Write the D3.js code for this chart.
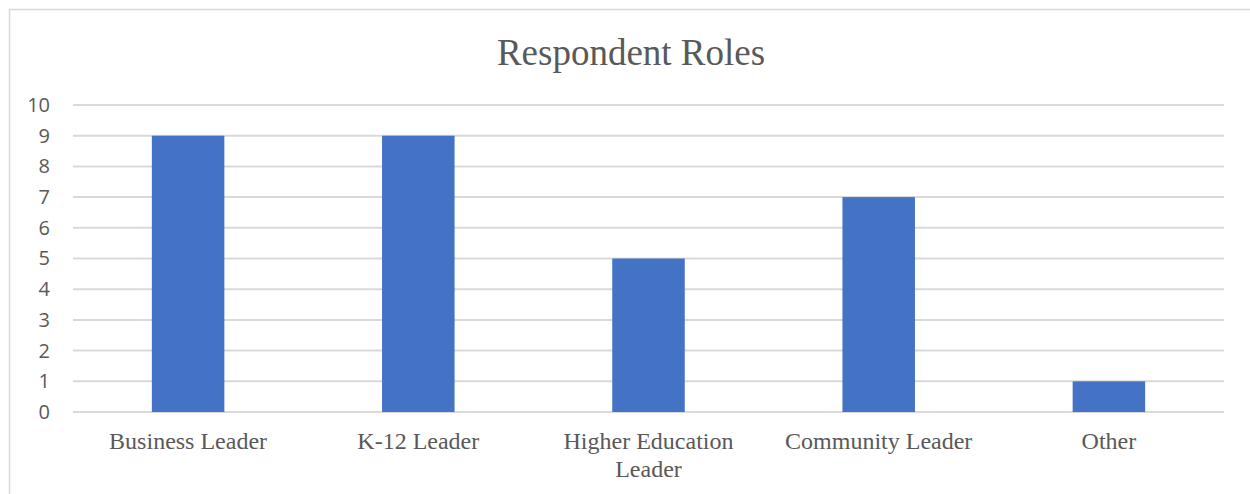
<!DOCTYPE html>
<html>
<head>
<meta charset="utf-8">
<script src="https://cdn.jsdelivr.net/npm/d3@7"></script>
<style>
  body { margin: 0; background: #fff; }
  svg { display: block; }
</style>
</head>
<body>
<svg width="1250" height="494"></svg>
<script>
// Chart data
const categories = ["Business Leader", "K-12 Leader", "Higher Education Leader", "Community Leader", "Other"];
const counts = [9, 9, 5, 7, 1];
const yTicks = [0, 1, 2, 3, 4, 5, 6, 7, 8, 9, 10];
const chartTitle = "Respondent Roles";

const svg = d3.select("svg");

// Outer chart border
svg.append("rect")
    .attr("x", 9.5).attr("y", 9.5)
    .attr("width", 1260).attr("height", 500)
    .attr("fill", "none")
    .attr("stroke", "#d9d9d9")
    .attr("stroke-width", 1.5);

const plotLeft = 73, plotRight = 1224, plotTop = 105, plotBottom = 412;

const x = d3.scaleBand()
    .domain(categories)
    .range([plotLeft, plotRight])
    .padding(0);

const y = d3.scaleLinear()
    .domain([0, 10])
    .range([plotBottom, plotTop]);

// Gridlines
svg.append("g")
    .selectAll("line")
    .data(yTicks)
    .join("line")
    .attr("x1", plotLeft).attr("x2", plotRight)
    .attr("y1", d => y(d)).attr("y2", d => y(d))
    .attr("stroke", "#d9d9d9")
    .attr("stroke-width", 2);

// Y axis labels
const yAxis = d3.axisLeft(y).tickValues(yTicks).tickSize(0).tickPadding(0);
svg.append("g")
    .attr("transform", `translate(${plotLeft - 23},0)`)
    .call(yAxis)
    .call(g => g.select(".domain").remove())
    .selectAll("text")
    .attr("fill", "#595959")
    .attr("font-family", "'Open Sans', sans-serif")
    .attr("font-size", 20);

// Bars
const barW = x.bandwidth() * 0.315;
svg.append("g")
    .selectAll("rect")
    .data(counts)
    .join("rect")
    .attr("x", (d, i) => x(categories[i]) + x.bandwidth() / 2 - barW / 2)
    .attr("y", d => y(d))
    .attr("width", barW)
    .attr("height", d => y(0) - y(d))
    .attr("fill", "#4472c4");

// Category labels (wrap long ones)
const wrapAt = { "Higher Education Leader": ["Higher Education", "Leader"] };
const labels = svg.append("g")
    .selectAll("text")
    .data(categories)
    .join("text")
    .attr("x", d => x(d) + x.bandwidth() / 2)
    .attr("y", 449)
    .attr("text-anchor", "middle")
    .attr("fill", "#595959")
    .attr("font-family", "'Liberation Serif', 'Times New Roman', serif")
    .attr("font-size", 24);

labels.each(function(d) {
    const lines = wrapAt[d] || [d];
    d3.select(this).selectAll("tspan")
        .data(lines)
        .join("tspan")
        .attr("x", x(d) + x.bandwidth() / 2)
        .attr("dy", (l, i) => i === 0 ? 0 : 28)
        .text(l => l);
});

// Title
svg.append("text")
    .attr("x", 631)
    .attr("y", 65)
    .attr("text-anchor", "middle")
    .attr("fill", "#595959")
    .attr("font-family", "'Liberation Serif', 'Times New Roman', serif")
    .attr("font-size", 37)
    .text(chartTitle);
</script>
</body>
</html>
